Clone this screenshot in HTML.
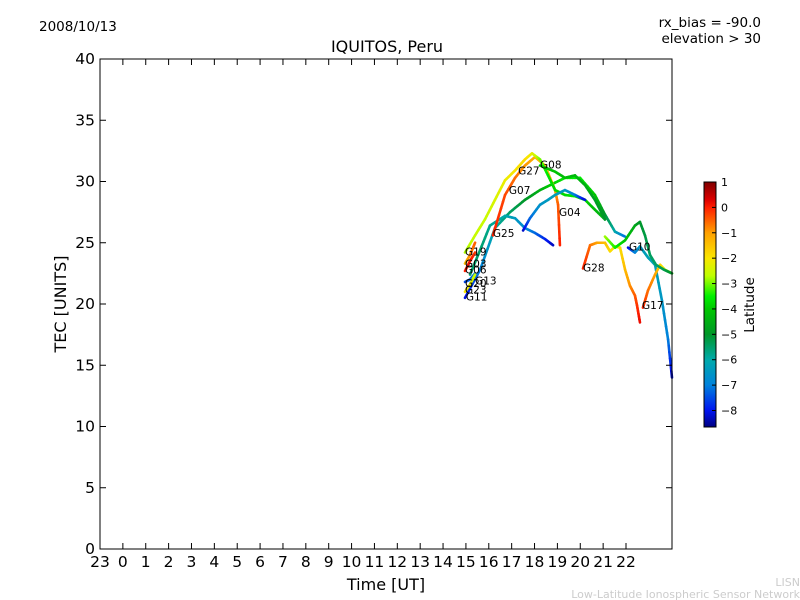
<!DOCTYPE html>
<html><head><meta charset="utf-8"><style>
body{margin:0;background:#fff}
svg{display:block;font-family:"DejaVu Sans","Liberation Sans",sans-serif}
</style></head><body>
<svg id="chart" width="800" height="600">
<defs><linearGradient id="cbgrad" x1="0" y1="0" x2="0" y2="1"></linearGradient></defs>
<rect width="800" height="600" fill="#fff"/>
<text x="39" y="31" font-size="13.5">2008/10/13</text>
<text x="761" y="27" font-size="13.5" text-anchor="end">rx_bias = -90.0</text>
<text x="761" y="43" font-size="13.5" text-anchor="end">elevation &gt; 30</text>
<text x="387" y="52" font-size="16" text-anchor="middle">IQUITOS, Peru</text>
<g id="plot"></g>
<rect x="100" y="59" width="572" height="490" fill="none" stroke="#000" stroke-width="1"/>
<text x="386" y="590" font-size="16" text-anchor="middle">Time [UT]</text>
<text transform="translate(66,304) rotate(-90)" font-size="16" text-anchor="middle">TEC [UNITS]</text>
<rect x="704" y="182" width="12" height="245" fill="url(#cbgrad)" stroke="#000" stroke-width="1"/>
<g id="cbticks"></g>
<text transform="translate(754,305) rotate(-90)" font-size="13.5" text-anchor="middle">Latitude</text>
<text x="800" y="586" font-size="11" fill="#ccc" text-anchor="end">LISN</text>
<text x="800" y="598" font-size="11" fill="#ccc" text-anchor="end">Low-Latitude Ionospheric Sensor Network</text>
</svg>
<script>
const xTickLabels=["23","0","1","2","3","4","5","6","7","8","9","10","11","12","13","14","15","16","17","18","19","20","21","22"];
const yTicks=[0,5,10,15,20,25,30,35,40];
const cbTicks=[1,0,-1,-2,-3,-4,-5,-6,-7,-8];
const latMin=-8.65, latMax=1;
// tracks: [hour, tec, latitude]
const trackG11=[[14.96,20.5,-8.2],[15.62,22.8,-7],[16.27,26.2,-6],[16.93,27.5,-5.5],[17.58,28.5,-5],[18.24,29.3,-4.5],[18.68,29.7,-4],[19.33,30.3,-3.6],[19.99,30.3,-3.5],[20.64,28.9,-4],[21.08,27.3,-5],[21.52,25.9,-6],[21.96,25.5,-7.2]];
const trackG07=[[15.18,22.4,-5.5],[15.62,24.4,-5.5],[16.05,26.4,-5.8],[16.71,27.2,-6],[17.15,27.0,-6.4],[17.58,26.2,-6.8],[18.02,25.8,-7.2],[18.46,25.3,-7.8],[18.81,24.8,-8.3]];
const trackG27=[[16.18,25.6,0],[16.71,28.9,-0.3],[17.15,30.3,-0.6],[17.58,31.3,-0.9],[18.02,32.0,-1.2],[18.46,31.3,-1.5],[18.90,29.3,-1.2],[19.03,28.1,-0.5],[19.11,24.8,0]];
const trackG19=[[14.96,24.2,-2.8],[15.40,25.6,-2.6],[15.83,26.9,-2.6],[16.27,28.5,-2.4],[16.71,30.1,-2.2],[17.15,30.9,-2],[17.58,31.8,-1.8],[17.89,32.3,-2.2],[18.24,31.8,-3],[18.59,30.5,-3.6],[18.90,29.3,-3.8],[19.33,28.9,-3.8],[19.77,28.8,-3.6],[20.21,28.5,-3.8],[20.64,27.7,-4.2],[21.08,26.9,-4.6]];
const trackG04=[[17.50,26.0,-8.3],[17.80,27.0,-7.3],[18.24,28.1,-6.6],[18.59,28.5,-6.4],[18.90,28.9,-6.3],[19.33,29.3,-6.4],[19.77,28.9,-7],[20.21,28.5,-8.2]];
const trackG08=[[18.24,31.3,-3.9],[18.90,30.8,-4.1],[19.33,30.3,-4.2],[19.77,30.5,-4.3],[20.21,29.7,-4.5],[20.64,28.5,-4.8],[21.08,26.9,-5]];
const trackG28=[[20.12,22.9,0],[20.43,24.8,-0.6],[20.73,25.0,-1],[21.08,25.0,-1.4],[21.30,24.3,-1.8],[21.52,24.7,-2],[21.74,24.6,-1.9],[21.96,22.8,-1.4],[22.17,21.5,-0.9],[22.39,20.7,-0.5],[22.48,19.9,-0.2],[22.61,18.5,0.2]];
const trackG10=[[22.09,24.6,-8.2],[22.39,24.2,-7],[22.61,24.7,-6.5],[22.96,23.8,-6.2],[23.27,23.2,-6.2],[23.57,20.3,-6.5],[23.84,17.1,-7],[24.01,14.0,-8.3]];
const trackG17=[[22.74,19.7,0],[22.96,21.1,-0.6],[23.27,22.4,-1],[23.49,23.2,-1.6],[23.70,22.8,-2.4],[24.01,22.5,-3]];
const trackG25=[[21.08,25.5,-2.8],[21.52,24.6,-3.4],[21.96,25.2,-4],[22.39,26.4,-4.6],[22.61,26.7,-5],[22.83,25.6,-5.2],[23.05,24.0,-5.4],[23.31,23.2,-5.5],[23.66,22.8,-5.3],[24.01,22.5,-5]];
const trackG03=[[14.96,23.3,-1.5],[15.18,24.0,-0.8],[15.40,25.0,-0.5]];
const trackG06=[[14.96,22.7,0],[15.18,23.5,0.2],[15.40,24.2,-0.2]];
const trackG20=[[14.96,21.8,-7.6],[15.18,22.0,-7.3],[15.40,22.5,-7]];
const trackG23=[[14.96,21.0,-2],[15.18,21.6,-2.2],[15.40,22.4,-2.6]];
const tracks=[trackG11,trackG07,trackG27,trackG19,trackG04,trackG08,trackG28,trackG10,trackG17,trackG25,trackG03,trackG06,trackG20,trackG23];
const satNames=["G19","G03","G06","G13","G20","G23","G11","G25","G07","G27","G08","G04","G28","G10","G17"];
const satHours=[14.96,14.96,14.96,15.40,14.96,14.96,15.00,16.18,16.88,17.28,18.24,19.07,20.12,22.13,22.70];
const satTec=[24.3,23.3,22.8,21.9,21.7,21.2,20.6,25.8,29.3,30.9,31.4,27.5,23.0,24.7,19.9];

const ns="http://www.w3.org/2000/svg";
const X=h=>100+(h+1)*22.87;
const Y=v=>549-v*12.25;
const CB=l=>182+(latMax-l)*(245/(latMax-latMin));
// colormap stops (latitude -> rgb), matching the colorbar
const cmapLat=[1,0.3,0,-1,-2,-2.7,-3.5,-4,-5,-6,-7,-8,-8.65];
const cmapRGB=[[128,0,0],[220,0,0],[255,30,0],[255,160,0],[250,230,0],[190,255,0],[0,240,0],[0,200,0],[0,150,40],[0,170,170],[0,130,220],[0,20,240],[0,0,130]];
function cmap(l){
  l=Math.max(latMin,Math.min(latMax,l));
  for(let i=0;i<cmapLat.length-1;i++){
    if(l<=cmapLat[i]&&l>=cmapLat[i+1]){
      const f=(cmapLat[i]-l)/(cmapLat[i]-cmapLat[i+1]);
      const c=cmapRGB[i].map((v,k)=>Math.round(v+(cmapRGB[i+1][k]-v)*f));
      return `rgb(${c[0]},${c[1]},${c[2]})`;
    }
  }
  return 'rgb(0,0,130)';
}
const grad=document.getElementById('cbgrad');
cmapLat.forEach((l,i)=>{
  const s=document.createElementNS(ns,'stop');
  s.setAttribute('offset',(latMax-l)/(latMax-latMin));
  s.setAttribute('stop-color',cmap(l));
  grad.appendChild(s);
});
const plot=document.getElementById('plot');
const svg=document.getElementById('chart');
tracks.forEach((tr,ti)=>{
  for(let i=0;i<tr.length-1;i++){
    const a=tr[i],b=tr[i+1];
    const n=6;
    for(let k=0;k<n;k++){
      const f0=k/n,f1=(k+1)/n;
      const ln=document.createElementNS(ns,'line');
      ln.setAttribute('x1',X(a[0]+(b[0]-a[0])*f0));ln.setAttribute('y1',Y(a[1]+(b[1]-a[1])*f0));
      ln.setAttribute('x2',X(a[0]+(b[0]-a[0])*f1));ln.setAttribute('y2',Y(a[1]+(b[1]-a[1])*f1));
      ln.setAttribute('stroke',cmap(a[2]+(b[2]-a[2])*(f0+f1)/2));
      ln.setAttribute('stroke-width','2.6');ln.setAttribute('stroke-linecap','round');
      
      
      plot.appendChild(ln);
    }
  }
});
satNames.forEach((s,i)=>{
  const t=document.createElementNS(ns,'text');
  t.setAttribute('x',X(satHours[i]));t.setAttribute('y',Y(satTec[i])+4);
  t.setAttribute('font-size','10.5');t.textContent=s;
  
  
  plot.appendChild(t);
});
xTickLabels.forEach((lab,i)=>{
  const h=i-1,x=X(h);
  [[549,543],[59,65]].forEach(([a,b])=>{
    const l=document.createElementNS(ns,'line');
    l.setAttribute('x1',x);l.setAttribute('x2',x);l.setAttribute('y1',a);l.setAttribute('y2',b);l.setAttribute('stroke','#000');
    
    
    svg.appendChild(l);
  });
  const t=document.createElementNS(ns,'text');
  t.setAttribute('x',x);t.setAttribute('y',567);t.setAttribute('font-size','15.5');t.setAttribute('text-anchor','middle');t.textContent=lab;
  
  
  svg.appendChild(t);
});
yTicks.forEach(v=>{
  const y=Y(v);
  [[100,106],[672,666]].forEach(([a,b])=>{
    const l=document.createElementNS(ns,'line');
    l.setAttribute('x1',a);l.setAttribute('x2',b);l.setAttribute('y1',y);l.setAttribute('y2',y);l.setAttribute('stroke','#000');
    
    
    svg.appendChild(l);
  });
  const t=document.createElementNS(ns,'text');
  t.setAttribute('x',95);t.setAttribute('y',y+5);t.setAttribute('font-size','15.5');t.setAttribute('text-anchor','end');t.textContent=v;
  
  
  svg.appendChild(t);
});
const cbg=document.getElementById('cbticks');
cbTicks.forEach(v=>{
  const y=CB(v);
  const l=document.createElementNS(ns,'line');
  l.setAttribute('x1',712);l.setAttribute('x2',716);l.setAttribute('y1',y);l.setAttribute('y2',y);l.setAttribute('stroke','#000');
  
  
  cbg.appendChild(l);
  const t=document.createElementNS(ns,'text');
  t.setAttribute('x',721);t.setAttribute('y',y+4);t.setAttribute('font-size','11');t.textContent=(v<0?'\u2212'+(-v):v);
  
  
  cbg.appendChild(t);
});
</script>
</body></html>
